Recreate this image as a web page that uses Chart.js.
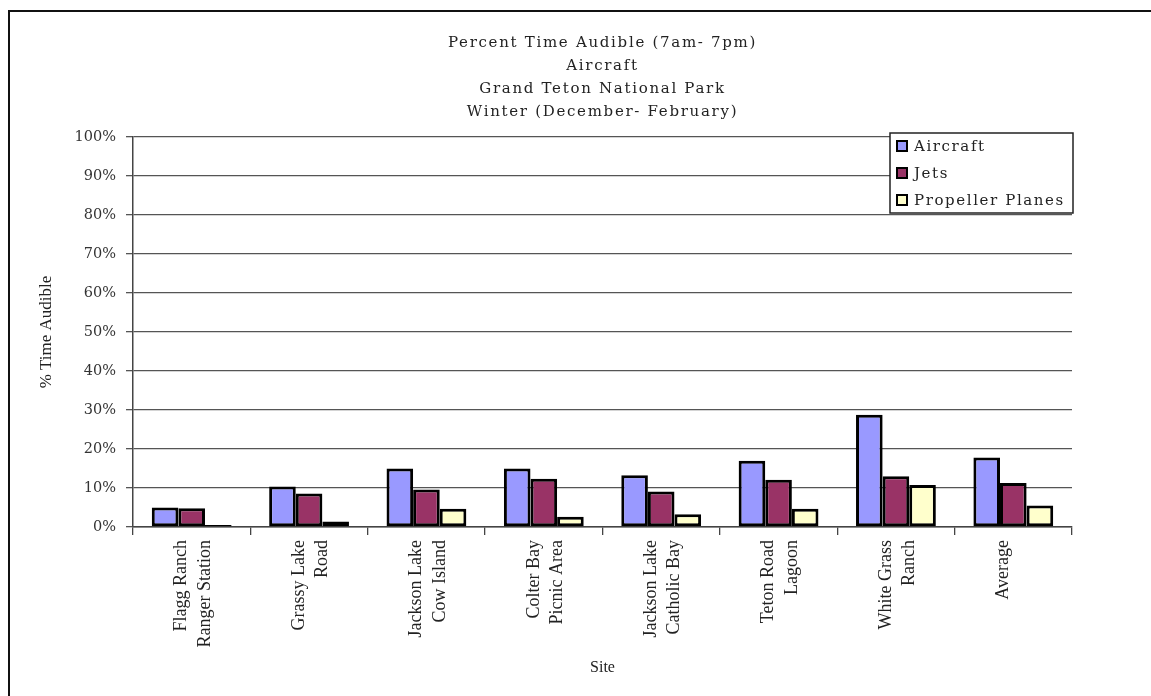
<!DOCTYPE html>
<html lang="en">
<head>
  <meta charset="UTF-8">
  <title>Percent Time Audible - Aircraft - Grand Teton</title>
  <script src="https://cdn.jsdelivr.net/npm/chart.js"></script>
  <style>
    body {
      margin: 0;
      padding: 0;
      background-color: #fff;
    }

    .wrap {
      position: relative;
      width: 1151px;
      height: 696px;
      overflow: hidden;
    }

    /* page frame that runs off the right and bottom edges */
    .frame {
      position: absolute;
      left: 8px;
      top: 10px;
      width: 1200px;
      height: 760px;
      border-left: 2px solid #111;
      border-top: 2px solid #111;
      pointer-events: none;
    }

    canvas {
      position: absolute;
      left: 0;
      top: 0;
    }
  </style>
</head>
<body>
  <div class="wrap">
    <canvas id="audibleChart" width="1151" height="696"></canvas>
    <div class="frame"></div>
  </div>

  <script>
    // --- data ---
    const sites = [
      ['Flagg Ranch', 'Ranger Station'],
      ['Grassy Lake', 'Road'],
      ['Jackson Lake', 'Cow Island'],
      ['Colter Bay', 'Picnic Area'],
      ['Jackson Lake', 'Catholic Bay'],
      ['Teton Road', 'Lagoon'],
      ['White Grass', 'Ranch'],
      'Average'
    ];
    const aircraft = [5.0, 10.4, 15.0, 15.0, 13.3, 17.0, 28.8, 17.8];
    const jets = [4.8, 8.6, 9.6, 12.4, 9.1, 12.1, 13.0, 11.3];
    const propellerPlanes = [0.5, 1.4, 4.7, 2.6, 3.3, 4.7, 10.8, 5.5];
    const titleLines = [
      'Percent Time Audible (7am- 7pm)',
      'Aircraft',
      'Grand Teton National Park',
      'Winter (December- February)'
    ];

    const serifWide = "'DejaVu Serif', serif";
    const serifTimes = "'Liberation Serif', 'Times New Roman', serif";

    // spaced-out title over the plot, like the original export
    const spacedTitle = {
      id: 'spacedTitle',
      afterDraw(chart) {
        const ctx = chart.ctx;
        const area = chart.chartArea;
        const cx = (area.left + area.right) / 2;
        ctx.save();
        ctx.font = '15px ' + serifWide;
        ctx.letterSpacing = '1.7px';
        ctx.fillStyle = '#222';
        ctx.textAlign = 'center';
        ctx.textBaseline = 'middle';
        titleLines.forEach((line, i) => {
          ctx.fillText(line, cx, 43 + i * 23);
        });
        ctx.restore();
      }
    };

    // legend drawn as a boxed key inside the top-right of the plot
    const boxedLegend = {
      id: 'boxedLegend',
      afterDraw(chart) {
        const ctx = chart.ctx;
        const area = chart.chartArea;
        const w = 183, h = 80;
        const left = area.right + 1 - w;
        const top = area.top - 4;
        ctx.save();
        ctx.fillStyle = '#fff';
        ctx.fillRect(left, top, w, h);
        ctx.strokeStyle = '#222';
        ctx.lineWidth = 1.5;
        ctx.strokeRect(left, top, w, h);
        ctx.font = '15px ' + serifWide;
        ctx.letterSpacing = '1.6px';
        ctx.textBaseline = 'middle';
        chart.data.datasets.forEach((ds, i) => {
          const cy = top + 13 + i * 27;
          ctx.fillStyle = ds.backgroundColor;
          ctx.fillRect(left + 7, cy - 5, 10, 10);
          ctx.strokeStyle = '#000';
          ctx.lineWidth = 2;
          ctx.strokeRect(left + 7, cy - 5, 10, 10);
          ctx.fillStyle = '#222';
          ctx.fillText(ds.label, left + 24, cy + 1);
        });
        ctx.restore();
      }
    };

    const ctx = document.getElementById('audibleChart').getContext('2d');

    new Chart(ctx, {
      type: 'bar',
      data: {
        labels: sites,
        datasets: [
          { label: 'Aircraft', data: aircraft, backgroundColor: '#9999FF' },
          { label: 'Jets', data: jets, backgroundColor: '#993366' },
          { label: 'Propeller Planes', data: propellerPlanes, backgroundColor: '#FFFFCC' }
        ]
      },
      options: {
        responsive: false,
        animation: false,
        layout: { padding: { left: 30, right: 79, top: 137, bottom: 8 } },
        datasets: {
          bar: {
            borderColor: '#000',
            borderWidth: 3,
            borderSkipped: false,
            categoryPercentage: 0.68,
            barPercentage: 1.0
          }
        },
        plugins: {
          legend: { display: false },
          tooltip: { enabled: false },
          title: { display: false }
        },
        scales: {
          x: {
            afterFit(scale) { scale.height = 161; },
            grid: {
              drawOnChartArea: false,
              drawTicks: true,
              tickLength: 8,
              color: '#444',
              lineWidth: 1.3
            },
            border: { color: '#444', width: 1.5 },
            ticks: {
              autoSkip: false,
              minRotation: 90,
              maxRotation: 90,
              padding: 5,
              labelOffset: -10,
              color: '#222',
              font: { family: serifTimes, size: 18, lineHeight: 1.3 }
            },
            title: {
              display: true,
              text: 'Site',
              color: '#222',
              font: { family: serifTimes, size: 16 },
              padding: { top: 4, bottom: 11 }
            }
          },
          y: {
            min: 0,
            max: 100,
            afterFit(scale) { scale.width = 103; },
            grid: {
              color: '#555',
              lineWidth: 1.3,
              tickLength: 7
            },
            border: { color: '#444', width: 1.5 },
            ticks: {
              stepSize: 10,
              padding: 10,
              color: '#333',
              font: { family: serifWide, size: 14.5 },
              callback: (v) => v + '%'
            },
            title: {
              display: true,
              text: '% Time Audible',
              color: '#222',
              font: { family: serifTimes, size: 17 },
              padding: { top: 6, bottom: 0 }
            }
          }
        }
      },
      plugins: [spacedTitle, boxedLegend]
    });
  </script>
</body>
</html>
